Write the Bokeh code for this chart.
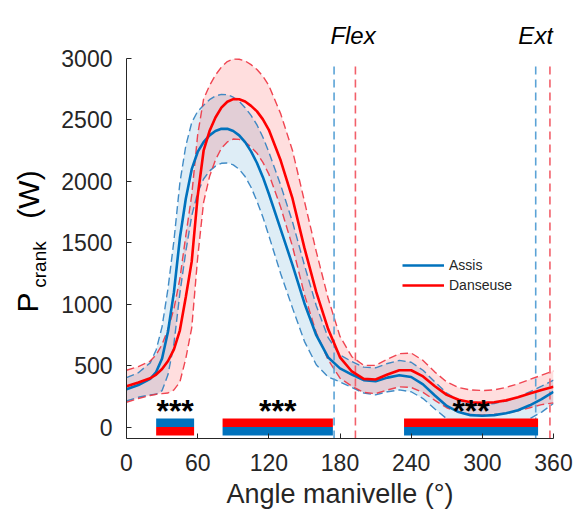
import math
from bokeh.plotting import figure
from bokeh.layouts import row
from bokeh.models import (ColumnDataSource, Range1d, FixedTicker, Label, Legend, LegendItem)
from bokeh.embed import file_html
from bokeh.resources import INLINE

# ---------------- data ----------------
angle = [0, 10, 20, 25, 30, 35, 40, 45, 50, 55, 60, 65, 70, 75, 80, 85, 90, 95, 100,
         105, 110, 115, 120, 130, 140, 150, 160, 170, 180, 190, 200, 210, 220, 230,
         240, 250, 260, 270, 280, 290, 300, 310, 320, 330, 340, 350, 360]

assis_mean = [310, 345, 395, 450, 560, 780, 1100, 1540, 1860, 2100, 2240, 2320, 2375,
              2410, 2428, 2428, 2410, 2375, 2320, 2245, 2150, 2035, 1900, 1610, 1320,
              1010, 750, 570, 480, 430, 385, 375, 405, 425, 410, 350, 260, 175, 125,
              100, 95, 100, 115, 140, 180, 230, 290]
assis_sd = [95, 100, 130, 180, 260, 350, 420, 450, 430, 380, 330, 300, 290, 285, 280,
            278, 275, 276, 280, 292, 310, 325, 340, 360, 350, 310, 240, 160, 110, 105,
            105, 110, 115, 120, 120, 115, 110, 105, 95, 90, 90, 95, 100, 105, 110, 105, 95]

danseuse_mean = [335, 365, 400, 430, 475, 540, 635, 790, 1060, 1350, 1880, 2250, 2410,
                 2520, 2600, 2648, 2670, 2668, 2650, 2615, 2570, 2505, 2420, 2170, 1860,
                 1460, 1100, 800, 570, 455, 395, 390, 430, 465, 465, 415, 335, 265, 225,
                 205, 200, 205, 220, 245, 275, 305, 330]
danseuse_sd = [130, 130, 140, 160, 200, 260, 330, 420, 500, 540, 500, 420, 370, 345, 330,
               327, 325, 326, 330, 335, 340, 350, 360, 380, 390, 380, 330, 250, 170, 120,
               110, 115, 125, 135, 140, 130, 115, 105, 100, 100, 100, 100, 105, 110, 115,
               120, 130]

series_names = ["Assis", "Danseuse"]

# transition angles (flexion / extension) per condition
flex_angle = [175, 193]
ext_angle = [345, 357]

# significant zones (degrees)
sig_start = [25, 81, 234]
sig_end = [57, 174, 347]
sig_top = ["Assis", "Danseuse", "Danseuse"]   # which colour is on top

x_ticks = [0, 60, 120, 180, 240, 300, 360]
y_ticks = [0, 500, 1000, 1500, 2000, 2500, 3000]

# ---------------- style ----------------
BLUE = "#0072BD"
RED = "#FF0000"
BLUE_DASH = "#2d7fc0"
RED_DASH = "#ee3340"
BLUE_V = "#5ba3d6"
RED_V = "#f2606a"
AX = "#262626"
FONT = "Liberation Sans"

W_TOTAL, H_TOTAL = 574, 515
LEFT_W = 58
BOTTOM_PANEL = 77

X0, X1 = 0, 360
Y0, YMAX = -90, 3000
Y_TOP = 3471.5          # extra room above the axis for the Flex / Ext labels

p = figure(width=W_TOTAL - LEFT_W, height=H_TOTAL, output_backend="svg",
           toolbar_location=None,
           x_range=Range1d(X0, X1), y_range=Range1d(Y0, Y_TOP),
           min_border_left=67, min_border_right=21, min_border_top=0,
           min_border_bottom=BOTTOM_PANEL)
p.outline_line_color = None
p.xgrid.visible = False
p.ygrid.visible = False
p.background_fill_color = "white"

for ax in (p.xaxis[0], p.yaxis[0]):
    ax.axis_line_color = AX
    ax.axis_line_width = 1
    ax.major_tick_line_color = AX
    ax.major_tick_in = 5
    ax.major_tick_out = 0
    ax.minor_tick_line_color = None
    ax.major_label_text_font = FONT
    ax.major_label_text_font_size = "23px"
    ax.major_label_text_color = AX
p.xaxis[0].ticker = FixedTicker(ticks=x_ticks)
p.yaxis[0].ticker = FixedTicker(ticks=y_ticks)
p.yaxis[0].bounds = (Y0, YMAX)
p.xaxis[0].major_label_standoff = 15
p.yaxis[0].major_label_standoff = 14
p.xaxis[0].axis_label = "Angle manivelle (°)"
p.xaxis[0].axis_label_text_font = FONT
p.xaxis[0].axis_label_text_font_size = "27px"
p.xaxis[0].axis_label_text_font_style = "normal"
p.xaxis[0].axis_label_text_color = AX
p.xaxis[0].axis_label_standoff = 5

def band(mean, sd):
    up = [m + s for m, s in zip(mean, sd)]
    lo = [m - s for m, s in zip(mean, sd)]
    return up, lo

a_up, a_lo = band(assis_mean, assis_sd)
d_up, d_lo = band(danseuse_mean, danseuse_sd)
src = ColumnDataSource(dict(angle=angle, a_m=assis_mean, a_up=a_up, a_lo=a_lo,
                            d_m=danseuse_mean, d_up=d_up, d_lo=d_lo))

p.varea(x="angle", y1="a_lo", y2="a_up", source=src, fill_color=BLUE, fill_alpha=0.13)
p.varea(x="angle", y1="d_lo", y2="d_up", source=src, fill_color=RED, fill_alpha=0.13)

for col in ("a_up", "a_lo"):
    p.line(x="angle", y=col, source=src, line_color=BLUE_DASH, line_width=1.4,
           line_dash="8 4", line_alpha=0.9)
for col in ("d_up", "d_lo"):
    p.line(x="angle", y=col, source=src, line_color=RED_DASH, line_width=1.4,
           line_dash="8 4", line_alpha=0.9)

# vertical transition lines
V_TOP = 2940
p.segment(x0=flex_angle + ext_angle, y0=[Y0] * 4, x1=flex_angle + ext_angle,
          y1=[V_TOP] * 4, line_color=[BLUE_V, RED_V, BLUE_V, RED_V], line_width=1.6,
          line_dash="8 5")

r_a = p.line(x="angle", y="a_m", source=src, line_color=BLUE, line_width=2.6)
r_d = p.line(x="angle", y="d_m", source=src, line_color=RED, line_width=2.6)

# significance bars
BAR_LO, BAR_MID, BAR_HI = -65, 4, 73
top_col = [BLUE if s == "Assis" else RED for s in sig_top]
bot_col = [RED if s == "Assis" else BLUE for s in sig_top]
p.quad(left=sig_start, right=sig_end, bottom=[BAR_MID] * 3, top=[BAR_HI] * 3,
       fill_color=top_col, line_color=None)
p.quad(left=sig_start, right=sig_end, bottom=[BAR_LO] * 3, top=[BAR_MID] * 3,
       fill_color=bot_col, line_color=None)
for s, e in zip(sig_start, sig_end):
    p.add_layout(Label(x=(s + e) / 2, y=130, text="***", text_align="center",
                       text_baseline="alphabetic", text_font=FONT,
                       text_font_size="32px", text_font_style="bold", text_color="black"))

# legend
legend = Legend(items=[LegendItem(label=series_names[0], renderers=[r_a]),
                       LegendItem(label=series_names[1], renderers=[r_d])],
                location=(276, 143), padding=0, margin=0, spacing=0,
                glyph_width=42, glyph_height=20, label_height=20,
                label_standoff=5, label_text_font=FONT,
                label_text_font_size="14px", label_text_color=AX,
                background_fill_alpha=0, border_line_alpha=0)
p.add_layout(legend)

# Flex / Ext labels
p.add_layout(Label(x=191, y=3187, text="Flex", text_align="center",
                   text_baseline="middle", text_font=FONT, text_font_size="24px",
                   text_font_style="italic", text_color="black"))
p.add_layout(Label(x=345, y=3187, text="Ext", text_align="center",
                   text_baseline="middle", text_font=FONT, text_font_size="24px",
                   text_font_style="italic", text_color="black"))

# ---- left strip holding the y-axis title (P_crank (W)) ----
# its frame is aligned with the main frame (page y 0 .. 438), so map page pixels:
# data y = H_TOTAL - page_y
q = figure(width=LEFT_W, height=H_TOTAL, output_backend="svg", toolbar_location=None,
           x_range=Range1d(0, LEFT_W), y_range=Range1d(BOTTOM_PANEL, H_TOTAL),
           x_axis_location=None, y_axis_location=None, min_border=0,
           min_border_bottom=BOTTOM_PANEL)
q.outline_line_color = None
q.xgrid.visible = False
q.ygrid.visible = False
ang = math.pi / 2
q.add_layout(Label(x=26.5, y=H_TOTAL - 302, text="P", angle=ang, text_align="center",
                   text_baseline="middle", text_font=FONT, text_font_size="30px",
                   text_color="black"))
q.add_layout(Label(x=39, y=H_TOTAL - 264, text="crank", angle=ang,
                   text_align="center", text_baseline="middle", text_font=FONT,
                   text_font_size="19px", text_color="black"))
q.add_layout(Label(x=28, y=H_TOTAL - 194, text="(W)", angle=ang,
                   text_align="center", text_baseline="middle", text_font=FONT,
                   text_font_size="30px", text_color="black"))

layout = row(q, p, spacing=0)
open("out.html", "w").write(file_html(layout, INLINE))
